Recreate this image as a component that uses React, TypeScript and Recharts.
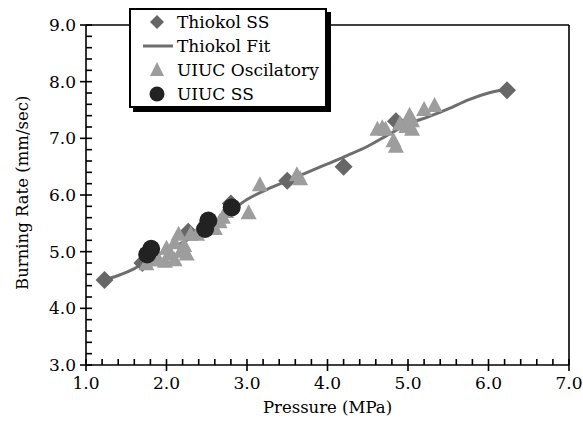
import React from 'react';
import {
    ComposedChart, Scatter, Line, XAxis, YAxis, ReferenceLine, Legend
} from 'recharts';

// --- DATA ---
const thiokolP = [1.23, 1.7, 2.27, 2.8, 3.5, 4.2, 4.85, 6.23];
const thiokolR = [4.5, 4.8, 5.35, 5.85, 6.25, 6.5, 7.3, 7.85];

const fitP = [1.22, 1.4, 1.6, 1.8, 2.0, 2.25, 2.5, 2.75, 3.0, 3.25, 3.5, 3.75, 4.0, 4.25, 4.5, 4.75, 5.0, 5.25, 5.5, 5.75, 6.0, 6.25];
const fitR = [4.5, 4.58, 4.7, 4.88, 5.02, 5.2, 5.4, 5.66, 5.92, 6.1, 6.25, 6.4, 6.55, 6.7, 6.86, 7.06, 7.25, 7.38, 7.52, 7.68, 7.8, 7.87];

const oscP = [1.75, 1.8, 1.9, 1.98, 2.0, 2.05, 2.1, 2.1, 2.15, 2.18, 2.22, 2.25, 2.3, 2.38, 2.45, 2.55, 2.6, 2.66, 2.7, 2.74, 3.02, 3.16, 3.62, 3.66,
    4.62, 4.68, 4.72, 4.82, 4.85, 4.9, 4.98, 5.02, 5.05, 5.05, 5.2, 5.33];
const oscR = [4.78, 4.85, 4.85, 4.82, 5.05, 4.95, 4.85, 5.15, 5.3, 5.0, 5.1, 4.95, 5.3, 5.3, 5.4, 5.45, 5.4, 5.52, 5.6, 5.7, 5.68, 6.17, 6.35, 6.28,
    7.15, 7.18, 7.15, 6.95, 6.85, 7.25, 7.2, 7.4, 7.3, 7.15, 7.5, 7.57];

const ssP = [1.76, 1.81, 2.48, 2.52, 2.81];
const ssR = [4.95, 5.05, 5.4, 5.55, 5.78];

const xMajor = [1.0, 2.0, 3.0, 4.0, 5.0, 6.0, 7.0];
const yMajor = [3.0, 4.0, 5.0, 6.0, 7.0, 8.0, 9.0];

const seriesNames = ['Thiokol SS', 'Thiokol Fit', 'UIUC Oscilatory', 'UIUC SS'];

// --- COLORS ---
const DIAMOND = '#676767';
const FIT = '#6e6e6e';
const TRI = '#9d9d9d';
const DOT = '#222222';
const FONT = 'DejaVu Serif';

const zip = (xs: number[], ys: number[]) => xs.map((p, i) => ({ p, r: ys[i] }));
const withMinor = (majors: number[]) => {
    const out: number[] = [];
    majors.forEach((m, i) => {
        out.push(m);
        if (i < majors.length - 1) for (let k = 1; k < 5; k++) out.push(+(m + k * 0.2).toFixed(1));
    });
    return out;
};

const isMajor = (v: number) => Math.abs(v - Math.round(v)) < 1e-6;

const XTick = ({ x, y, payload }: any) => {
    const major = isMajor(payload.value);
    return (
        <g>
            <line x1={x} x2={x} y1={y - 6} y2={major ? y + 6 : y} stroke="#000" strokeWidth={1.6} />
            {major && (
                <text x={x} y={y + 24} textAnchor="middle" style={{ fontFamily: FONT, fontSize: 17 }} fill="#000">
                    {payload.value.toFixed(1)}
                </text>
            )}
        </g>
    );
};

const YTick = ({ x, y, payload }: any) => {
    const major = isMajor(payload.value);
    return (
        <g>
            <line x1={major ? x - 6 : x} x2={x + 6} y1={y} y2={y} stroke="#000" strokeWidth={1.6} />
            {major && (
                <text x={x - 10} y={y + 6} textAnchor="end" style={{ fontFamily: FONT, fontSize: 17 }} fill="#000">
                    {payload.value.toFixed(1)}
                </text>
            )}
        </g>
    );
};

const Diamond = ({ cx, cy }: any) => (
    <polygon points={`${cx},${cy - 9} ${cx + 9},${cy} ${cx},${cy + 9} ${cx - 9},${cy}`} fill={DIAMOND} />
);
const Triangle = ({ cx, cy }: any) => (
    <polygon points={`${cx},${cy - 9} ${cx + 8},${cy + 6} ${cx - 8},${cy + 6}`} fill={TRI} />
);
const Dot = ({ cx, cy }: any) => <circle cx={cx} cy={cy} r={9} fill={DOT} />;

const LegendBox = () => {
    const icons = [
        <polygon key="d" points="26,5 33,12 26,19 19,12" fill={DIAMOND} />,
        <line key="l" x1={12} x2={42} y1={12} y2={12} stroke={FIT} strokeWidth={3} />,
        <polygon key="t" points="26,4 33,18 19,18" fill={TRI} />,
        <circle key="c" cx={26} cy={12} r={7.5} fill={DOT} />
    ];
    return (
        <div style={{
            width: 194, height: 96, border: '2px solid #000', background: '#fff',
            boxShadow: '4px 4px 0 #000', fontFamily: FONT, fontSize: 17, color: '#000'
        }}>
            {seriesNames.map((name, i) => (
                <div key={name} style={{ display: 'flex', alignItems: 'center', height: 24 }}>
                    <svg width={46} height={24}>{icons[i]}</svg>
                    <span style={{ lineHeight: '24px', whiteSpace: 'nowrap' }}>{name}</span>
                </div>
            ))}
        </div>
    );
};

export default function App() {
    return (
        <div style={{ position: 'absolute', left: 0, top: 0, width: 583, height: 443, background: '#fff' }}>
            <ComposedChart width={583} height={443} margin={{ top: 25, right: 14, left: 26, bottom: 28 }}>
                <XAxis
                    type="number"
                    dataKey="p"
                    domain={[1, 7]}
                    ticks={withMinor(xMajor)}
                    interval={0}
                    allowDataOverflow
                    tickSize={0}
                    tickMargin={0}
                    height={50}
                    axisLine={{ stroke: '#000', strokeWidth: 1.6 }}
                    tickLine={false}
                    tick={<XTick />}
                    label={{ value: 'Pressure (MPa)', position: 'insideBottom', offset: 2, style: { fontFamily: FONT, fontSize: 16.5 }, fill: '#000' }}
                />
                <YAxis
                    type="number"
                    dataKey="r"
                    domain={[3, 9]}
                    ticks={withMinor(yMajor)}
                    interval={0}
                    allowDataOverflow
                    tickSize={0}
                    tickMargin={0}
                    width={60}
                    axisLine={{ stroke: '#000', strokeWidth: 1.6 }}
                    tickLine={false}
                    tick={<YTick />}
                    label={{ value: 'Burning Rate (mm/sec)', angle: -90, position: 'insideLeft', offset: -4, dy: 95, style: { fontFamily: FONT, fontSize: 16.5 }, fill: '#000' }}
                />
                <ReferenceLine y={9} stroke="#000" strokeWidth={1.6} />
                <ReferenceLine x={7} stroke="#000" strokeWidth={1.6} />
                <Line data={zip(fitP, fitR)} dataKey="r" type="monotone" stroke={FIT} strokeWidth={3} dot={false} activeDot={false} isAnimationActive={false} />
                <Scatter data={zip(thiokolP, thiokolR)} dataKey="r" shape={<Diamond />} isAnimationActive={false} />
                <Scatter data={zip(oscP, oscR)} dataKey="r" shape={<Triangle />} isAnimationActive={false} />
                <Scatter data={zip(ssP, ssR)} dataKey="r" shape={<Dot />} isAnimationActive={false} />
                <Legend
                    layout="vertical"
                    align="center"
                    verticalAlign="middle"
                    content={<LegendBox />}
                    wrapperStyle={{ left: 129, top: 8, width: 198, height: 100 }}
                />
            </ComposedChart>
        </div>
    );
}
